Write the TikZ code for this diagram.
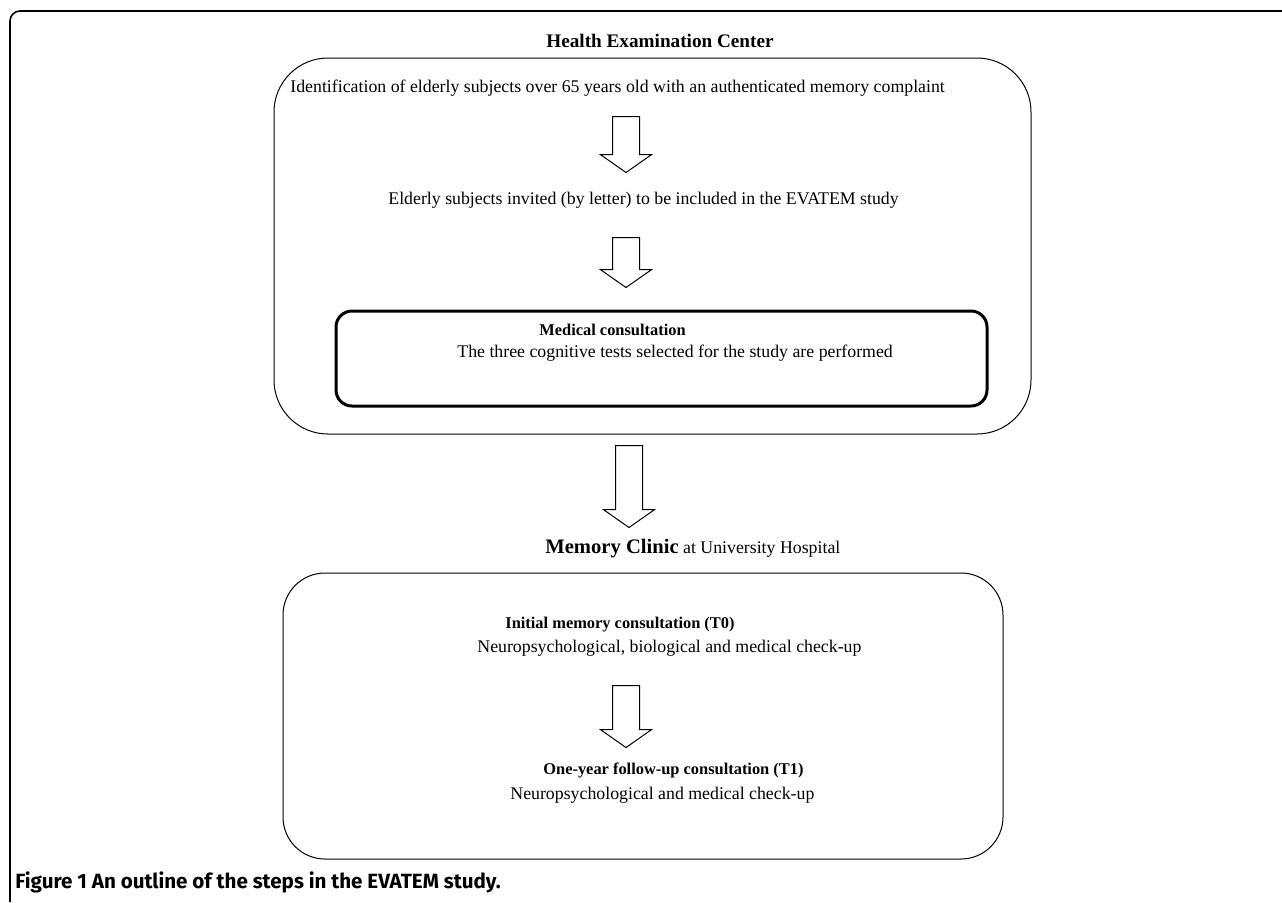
\documentclass[tikz,border=0pt]{standalone}
\usepackage{fontspec}
\setmainfont{Liberation Serif}
\newfontfamily\captionfont{Fira Sans}
\usetikzlibrary{shapes.arrows}

\tikzset{
  steptext/.style={inner sep=0pt, anchor=west, font=\fontsize{8.9}{10}\selectfont},
  steptitle/.style={inner sep=0pt, anchor=west, font=\fontsize{8.2}{10}\selectfont\bfseries},
  blockarrow/.style={draw, single arrow, single arrow head extend=6pt,
    single arrow tip angle=110, minimum width=25pt, inner xsep=0pt, inner ysep=6.5pt,
    rotate=-90, anchor=tail, line width=0.5pt},
  roundbox/.style={draw, line width=0.5pt},
}

\begin{document}
\begin{tikzpicture}[x=0.5pt, y=-0.5pt]
  \useasboundingbox (0,0) rectangle (1282,902);
  % outer frame
  \draw[line width=0.8pt, rounded corners=5pt] (10,902) |- (1282,11);
  % health examination center
  \node[steptitle, font=\fontsize{9.6}{12}\selectfont\bfseries] (hec) at (546,41) {Health Examination Center};
  \draw[roundbox, rounded corners=27pt] (274,58) rectangle (1031,434);
  \node[steptext] (ident) at (290,88) {Identification of elderly subjects over 65 years old with an authenticated memory complaint};
  \node[blockarrow, minimum height=28pt] (arr1) at (626,116) {};
  \node[steptext] (invite) at (388,200) {Elderly subjects invited (by letter) to be included in the EVATEM study};
  \node[blockarrow, minimum height=25pt] (arr2) at (626,237) {};
  \draw[line width=1.5pt, rounded corners=8pt] (336,311) rectangle (987,406);
  \node[steptitle] (medical) at (539,330) {Medical consultation};
  \node[steptext] (tests) at (457,353) {The three cognitive tests selected for the study are performed};
  % memory clinic
  \node[blockarrow, minimum height=41pt] (arr3) at (629,445) {};
  \node[steptext, anchor=base west] (clinic) at (545,553) {{\fontsize{10.3}{12}\selectfont\bfseries Memory Clinic} at University Hospital};
  \draw[roundbox, rounded corners=21pt] (283,573) rectangle (1003,859);
  \node[steptitle] (tzero) at (505,625) {Initial memory consultation (T0)};
  \node[steptext] (checkzero) at (477,648) {Neuropsychological, biological and medical check-up};
  \node[blockarrow, minimum height=31pt] (arr4) at (626,685) {};
  \node[steptitle] (tone) at (543,770) {One-year follow-up consultation (T1)};
  \node[steptext] (checkone) at (510,795) {Neuropsychological and medical check-up};
  % caption
  \node[anchor=base west, inner sep=0pt, font=\captionfont\bfseries\fontsize{10.3}{12}\selectfont] (caption) at (15,888) {Figure 1 An outline of the steps in the EVATEM study.};
\end{tikzpicture}
\end{document}
